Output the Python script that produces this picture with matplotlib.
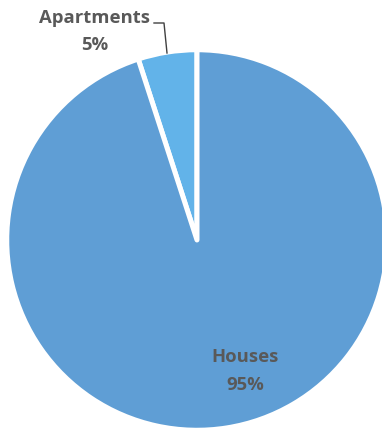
import numpy as np
import matplotlib.pyplot as plt

labels = ['Apartments', 'Houses']
shares = [5, 95]
colors = ['#62B3E9', '#5F9ED5']

plt.rcParams['font.family'] = ['Open Sans', 'DejaVu Sans']

fig = plt.figure(figsize=(3.82, 4.30), dpi=100)
ax = fig.add_axes([0, 0, 1, 1])

wedges, _ = ax.pie(shares, colors=colors, startangle=90, counterclock=True,
                   radius=1.012,
                   wedgeprops=dict(edgecolor='white', linewidth=3.6,
                                   joinstyle='round'))

# pie sits at (197, 240) px with a radius of about 188 px
# (limits set after pie(), which resets them)
R = 188.0
cx, cy = 197.0, 240.0
ax.set_xlim(-cx / R, (382 - cx) / R)
ax.set_ylim(-(430 - cy) / R, cy / R)
ax.set_aspect('equal')
ax.axis('off')

pct = [f'{s}%' for s in shares]
txt = dict(fontsize=13.3, fontweight='bold', color='#595959',
           ha='center', va='center', linespacing=1.7)

# Houses label inside its slice
ax.text((245 - cx) / R, (cy - 371) / R, f'{labels[1]}\n{pct[1]}', **txt)

# Apartments label above the pie with a leader line
ax.text((95 - cx) / R, (cy - 31.5) / R, f'{labels[0]}\n{pct[0]}', **txt)
lx = np.array([154, 164, 167])
ly = np.array([23, 23, 53])
ax.plot((lx - cx) / R, (cy - ly) / R, color='#404040', lw=1.0)

fig.savefig('out.png', dpi=100)
